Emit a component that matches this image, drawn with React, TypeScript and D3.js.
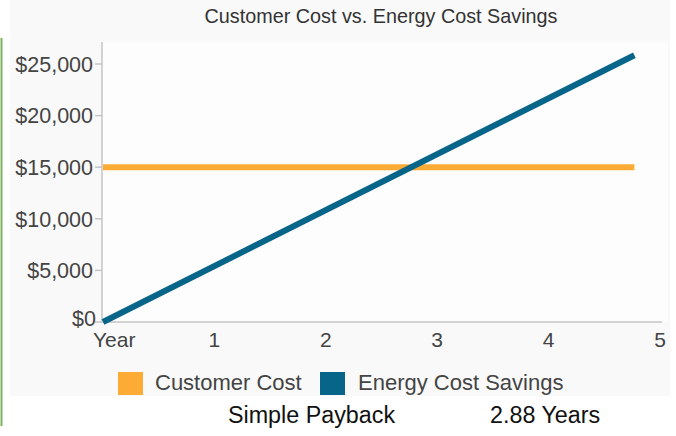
import React from "react";
import * as d3 from "d3";

// chart data
const years = [0, 4.77];
const customerCost = [15000, 15000];
const energySavings = [0, 25850];
const xTicks = [0, 1, 2, 3, 4, 5];
const xTickLabels = ["Year", "1", "2", "3", "4", "5"];
const yTicks = [0, 5000, 10000, 15000, 20000, 25000];
const seriesNames = ["Customer Cost", "Energy Cost Savings"];
const seriesColors = ["#fcab35", "#08658a"];
const paybackLabel = "Simple Payback";
const paybackValue = "2.88 Years";

const width = 676;
const height = 436;
const font = "Arial, 'Liberation Sans', Helvetica, sans-serif";

export default function App() {
  // scales
  const xScale = d3.scaleLinear().domain([0, 5]).range([103, 660]);
  const yScale = d3.scaleLinear().domain([0, 25000]).range([322, 64]);
  const plotTop = 42;

  const line = d3
    .line<[number, number]>()
    .x((d) => xScale(d[0]))
    .y((d) => yScale(d[1]));

  const series = [customerCost, energySavings].map((vals) =>
    years.map((y, i) => [y, vals[i]] as [number, number])
  );

  const fmt = (v: number) => "$" + d3.format(",")(v);

  return (
    <svg
      width={width}
      height={height}
      style={{ position: "absolute", left: 0, top: 0, fontFamily: font }}
    >
      <rect x={0} y={0} width={width} height={height} fill="#ffffff" />
      {/* chart panel */}
      <rect x={10} y={0} width={660} height={396} fill="#f9f9f9" />
      <rect x={102} y={plotTop} width={566} height={322 - plotTop} fill="#fdfdfd" />
      {/* green side border */}
      <line x1={1.5} x2={1.5} y1={38} y2={426} stroke="#7fb35f" strokeWidth={2} />

      {/* title */}
      <text x={381} y={23} textAnchor="middle" fontSize={19.8} fill="#333">
        Customer Cost vs. Energy Cost Savings
      </text>

      {/* y axis */}
      <line x1={102} x2={102} y1={plotTop} y2={322} stroke="#c4c4c4" strokeWidth={1.5} />
      {yTicks.map((t) => (
        <g key={t}>
          <line x1={95} x2={102} y1={yScale(t)} y2={yScale(t)} stroke="#c4c4c4" strokeWidth={1.5} />
          <text
            x={t === 0 ? 96 : 93}
            y={yScale(t)}
            dy={t === 0 ? "0.2em" : "0.36em"}
            textAnchor="end"
            fontSize={21.5}
            fill="#444"
          >
            {fmt(t)}
          </text>
        </g>
      ))}

      {/* x axis */}
      <line x1={102} x2={662} y1={322} y2={322} stroke="#c4c4c4" strokeWidth={1.5} />
      {xTicks.map((t, i) => (
        <text
          key={t}
          x={i === 0 ? xScale(t) - 10 : xScale(t)}
          y={347}
          textAnchor={i === 0 ? "start" : "middle"}
          fontSize={21}
          fill="#444"
        >
          {xTickLabels[i]}
        </text>
      ))}

      {/* lines */}
      {series.map((s, i) => (
        <path
          key={seriesNames[i]}
          d={line(s) || ""}
          fill="none"
          stroke={seriesColors[i]}
          strokeWidth={6}
        />
      ))}

      {/* legend */}
      <rect x={118} y={372} width={25} height={23} fill={seriesColors[0]} />
      <text x={155} y={390} fontSize={22} fill="#444">
        {seriesNames[0]}
      </text>
      <rect x={320} y={372} width={25} height={23} fill={seriesColors[1]} />
      <text x={358} y={390} fontSize={22} fill="#444">
        {seriesNames[1]}
      </text>

      {/* payback */}
      <text x={228} y={423} fontSize={23.3} fill="#111">
        {paybackLabel}
      </text>
      <text x={490} y={423} fontSize={23.3} fill="#111">
        {paybackValue}
      </text>
    </svg>
  );
}
